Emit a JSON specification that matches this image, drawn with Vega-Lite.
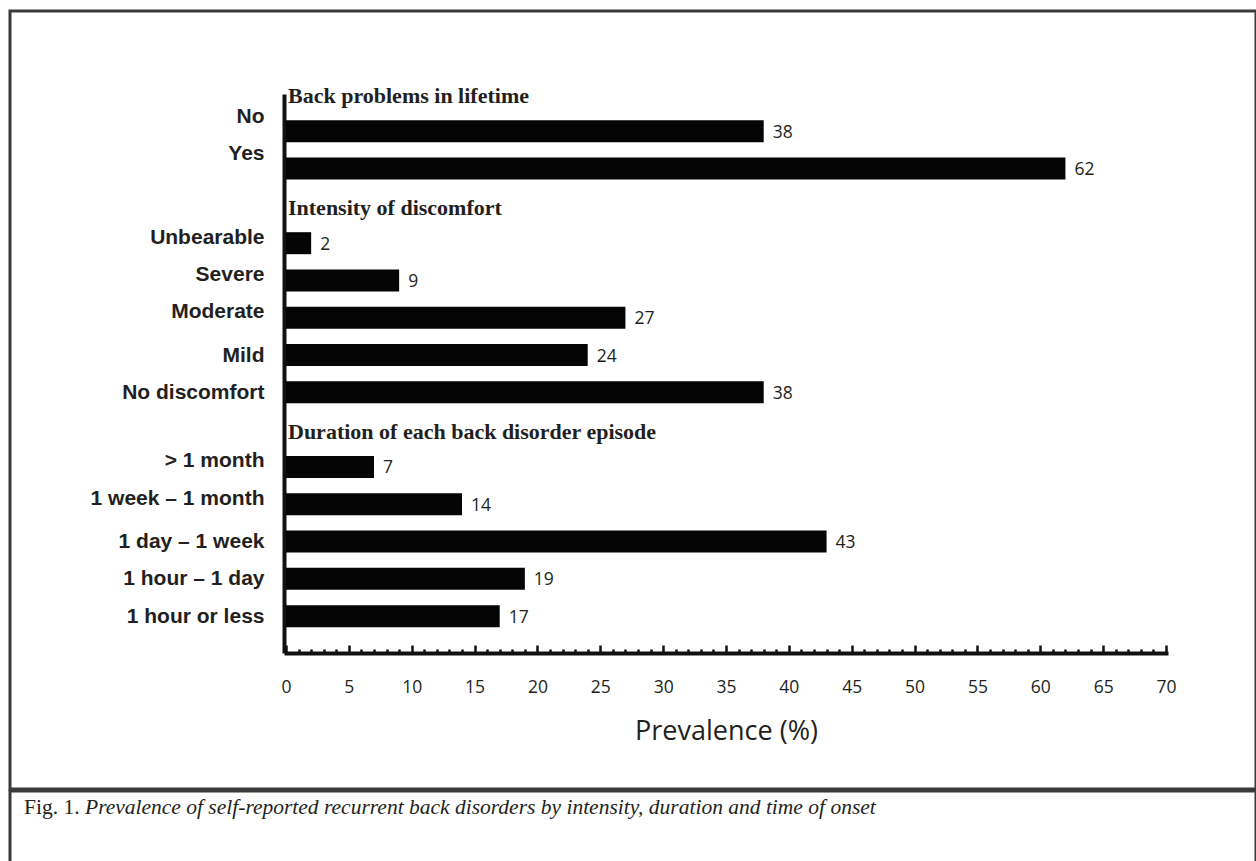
{
  "$schema": "https://vega.github.io/schema/vega-lite/v6.json",
  "padding": {"left": 8, "top": 9, "right": 0, "bottom": 0},
  "autosize": {"type": "pad"},
  "background": "white",
  "spacing": -9,
  "config": {
    "view": {"stroke": "#3a3a3a", "strokeWidth": 3},
    "axis": {"grid": false},
    "concat": {"spacing": -9}
  },
  "datasets": {
    "rows": [
      {"row": "Back problems in lifetime", "kind": "header"},
      {"row": "No", "kind": "bar", "value": 38},
      {"row": "Yes", "kind": "bar", "value": 62},
      {"row": "Intensity of discomfort", "kind": "header"},
      {"row": "Unbearable", "kind": "bar", "value": 2},
      {"row": "Severe", "kind": "bar", "value": 9},
      {"row": "Moderate", "kind": "bar", "value": 27},
      {"row": "Mild", "kind": "bar", "value": 24},
      {"row": "No discomfort", "kind": "bar", "value": 38},
      {"row": "Duration of each back disorder episode", "kind": "header"},
      {"row": "> 1 month", "kind": "bar", "value": 7},
      {"row": "1 week – 1 month", "kind": "bar", "value": 14},
      {"row": "1 day – 1 week", "kind": "bar", "value": 43},
      {"row": "1 hour – 1 day", "kind": "bar", "value": 19},
      {"row": "1 hour or less", "kind": "bar", "value": 17}
    ],
    "caption": [
      {"fig": "Fig. 1.", "text": "Prevalence of self-reported recurrent back disorders by intensity, duration and time of onset"}
    ]
  },
  "vconcat": [
    {
      "width": 1246,
      "height": 778,
      "data": {"name": "rows"},
      "resolve": {"axis": {"x": "independent", "y": "independent"}},
      "layer": [
        {
          "transform": [{"filter": "datum.kind === 'bar'"}],
          "mark": {"type": "bar", "color": "#050505", "size": 22},
          "encoding": {
            "y": {
              "field": "row",
              "type": "nominal",
              "sort": null,
              "scale": {
                "type": "point",
                "domain": ["Back problems in lifetime", "No", "Yes", "Intensity of discomfort", "Unbearable", "Severe", "Moderate", "Mild", "No discomfort", "Duration of each back disorder episode", "> 1 month", "1 week – 1 month", "1 day – 1 week", "1 hour – 1 day", "1 hour or less"],
                "range": [83, 642],
                "padding": 0.494,
                "align": 0
              },
              "axis": {
                "orient": "left",
                "offset": -274,
                "ticks": false,
                "domainWidth": 4,
                "domainColor": "#111111",
                "labelFont": "Liberation Sans",
                "labelFontWeight": "bold",
                "labelFontSize": 21,
                "labelColor": "#231f20",
                "labelPadding": 20,
                "labelLimit": 400,
                "labelExpr": "indexof(['Back problems in lifetime','Intensity of discomfort','Duration of each back disorder episode'], datum.value) >= 0 ? '' : datum.value",
                "labelOffset": {
                  "condition": [
                    {"test": "datum.value === 'No' || datum.value === 'Yes'", "value": -15},
                    {"test": "indexof(['Unbearable','Severe','Moderate','> 1 month','1 week – 1 month'], datum.value) >= 0", "value": -6}
                  ],
                  "value": 0
                },
                "title": null
              }
            },
            "x": {
              "field": "value",
              "type": "quantitative",
              "scale": {"domain": [0, 70], "range": [276, 1156], "nice": false, "zero": true},
              "axis": {
                "orient": "bottom",
                "offset": -136,
                "values": [0,1,2,3,4,5,6,7,8,9,10,11,12,13,14,15,16,17,18,19,20,21,22,23,24,25,26,27,28,29,30,31,32,33,34,35,36,37,38,39,40,41,42,43,44,45,46,47,48,49,50,51,52,53,54,55,56,57,58,59,60,61,62,63,64,65,66,67,68,69,70],
                "tickSize": {"condition": {"test": "datum.value % 5 === 0", "value": -8}, "value": -4},
                "tickWidth": 2.5,
                "tickColor": "#111111",
                "domainWidth": 4,
                "domainColor": "#111111",
                "domainCap": "square",
                "labelExpr": "datum.value % 5 === 0 ? datum.label : ''",
                "labelFont": "Open Sans",
                "labelFontSize": 17.5,
                "labelColor": "#231f20",
                "labelPadding": 33,
                "labelOverlap": false,
                "labelFlush": false,
                "labelBound": false,
                "title": "Prevalence (%)",
                "titleFont": "Open Sans",
                "titleFontSize": 27,
                "titleFontWeight": "normal",
                "titleColor": "#231f20",
                "titlePadding": 19,
                "grid": false
              }
            }
          }
        },
        {
          "transform": [{"filter": "datum.kind === 'bar'"}],
          "mark": {"type": "text", "align": "left", "baseline": "middle", "dx": 9, "dy": 1.5, "font": "Open Sans", "fontSize": 17.5, "color": "#231f20"},
          "encoding": {
            "y": {"field": "row", "type": "nominal", "axis": null},
            "x": {"field": "value", "type": "quantitative", "axis": null},
            "text": {"field": "value", "type": "quantitative"}
          }
        },
        {
          "transform": [{"filter": "datum.kind === 'header'"}],
          "mark": {"type": "text", "align": "left", "baseline": "middle", "dx": 2, "dy": 2, "font": "Liberation Serif", "fontWeight": "bold", "fontSize": 22, "color": "#231f20"},
          "encoding": {
            "y": {"field": "row", "type": "nominal", "axis": null},
            "x": {"datum": 0, "type": "quantitative", "axis": null},
            "text": {"field": "row", "type": "nominal"}
          }
        }
      ]
    },
    {
      "width": 1246,
      "height": 81,
      "data": {"name": "caption"},
      "layer": [
        {
          "mark": {"type": "text", "align": "left", "baseline": "middle", "dx": 14, "dy": -24, "font": "Liberation Serif", "fontSize": 21.5, "color": "#231f20"},
          "encoding": {
            "x": {"datum": 0, "type": "quantitative", "scale": {"domain": [0, 1]}, "axis": null},
            "text": {"field": "fig", "type": "nominal"}
          }
        },
        {
          "mark": {"type": "text", "align": "left", "baseline": "middle", "dx": 75, "dy": -24, "font": "Liberation Serif", "fontStyle": "italic", "fontSize": 21.5, "color": "#231f20"},
          "encoding": {
            "x": {"datum": 0, "type": "quantitative"},
            "text": {"field": "text", "type": "nominal"}
          }
        }
      ]
    }
  ]
}
